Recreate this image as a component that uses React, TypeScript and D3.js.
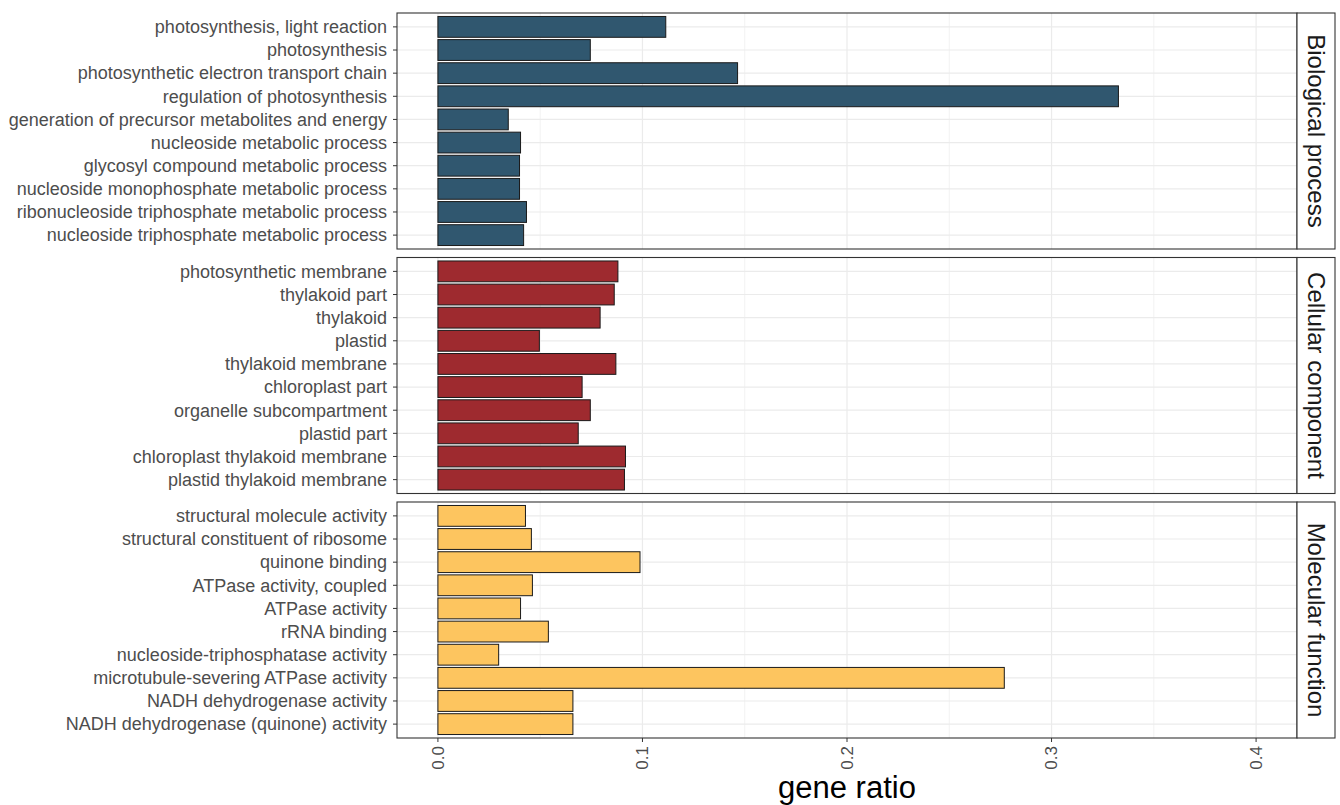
import React from 'react';
import * as d3 from 'd3';

// GO categories, top to bottom as displayed
const bpTerms = [
  'photosynthesis, light reaction',
  'photosynthesis',
  'photosynthetic electron transport chain',
  'regulation of photosynthesis',
  'generation of precursor metabolites and energy',
  'nucleoside metabolic process',
  'glycosyl compound metabolic process',
  'nucleoside monophosphate metabolic process',
  'ribonucleoside triphosphate metabolic process',
  'nucleoside triphosphate metabolic process',
];
const bpRatio = [0.1114, 0.0745, 0.1465, 0.3327, 0.0344, 0.0404, 0.0399, 0.0399, 0.0433, 0.0419];

const ccTerms = [
  'photosynthetic membrane',
  'thylakoid part',
  'thylakoid',
  'plastid',
  'thylakoid membrane',
  'chloroplast part',
  'organelle subcompartment',
  'plastid part',
  'chloroplast thylakoid membrane',
  'plastid thylakoid membrane',
];
const ccRatio = [0.088, 0.0862, 0.0793, 0.0496, 0.087, 0.0705, 0.0745, 0.0686, 0.0917, 0.0912];

const mfTerms = [
  'structural molecule activity',
  'structural constituent of ribosome',
  'quinone binding',
  'ATPase activity, coupled',
  'ATPase activity',
  'rRNA binding',
  'nucleoside-triphosphatase activity',
  'microtubule-severing ATPase activity',
  'NADH dehydrogenase activity',
  'NADH dehydrogenase (quinone) activity',
];
const mfRatio = [0.0428, 0.0457, 0.0988, 0.0462, 0.0404, 0.054, 0.0297, 0.2769, 0.066, 0.066];

const ontologies = ['Biological process', 'Cellular component', 'Molecular function'];
const ontologyColors = ['#30576F', '#9E2A2F', '#FDC55F'];
const xTicks = [0, 0.1, 0.2, 0.3, 0.4];
const xMinor = [0.05, 0.15, 0.25, 0.35];

const W = 1340;
const H = 805;
const left = 397;
const right = 1297;
const stripW = 38;
const top = 13;
const panelH = 236;
const gap = 8.5;
const font = '"Liberation Sans", Arial, sans-serif';

const App = () => {
  const panels = [
    { terms: bpTerms, values: bpRatio },
    { terms: ccTerms, values: ccRatio },
    { terms: mfTerms, values: mfRatio },
  ];

  const x = d3.scaleLinear().domain([-0.02, 0.42]).range([left, right]);
  const bottom = top + 3 * panelH + 2 * gap;

  return (
    <svg width={W} height={H} style={{ position: 'absolute', left: 0, top: 0, background: '#fff' }} fontFamily={font}>
      {panels.map((p, i) => {
        const y0 = top + i * (panelH + gap);
        const y = d3.scaleBand<string>()
          .domain(p.terms)
          .range([y0, y0 + panelH])
          .paddingInner(0.1)
          .paddingOuter(0.15);
        const mid = (t: string) => y(t)! + y.bandwidth() / 2;
        return (
          <g key={i}>
            {/* grid */}
            {xMinor.map(t => (
              <line key={'m' + t} x1={x(t)} x2={x(t)} y1={y0} y2={y0 + panelH} stroke="#F2F2F2" strokeWidth={1} />
            ))}
            {xTicks.map(t => (
              <line key={'M' + t} x1={x(t)} x2={x(t)} y1={y0} y2={y0 + panelH} stroke="#EBEBEB" strokeWidth={1.2} />
            ))}
            {p.terms.map(term => (
              <line key={'h' + term} x1={left} x2={right} y1={mid(term)} y2={mid(term)}
                stroke="#EBEBEB" strokeWidth={1.2} />
            ))}
            {/* bars */}
            {p.terms.map((term, j) => (
              <rect key={'b' + term} x={x(0)} y={y(term)!} width={x(p.values[j]) - x(0)} height={y.bandwidth()}
                fill={ontologyColors[i]} stroke="#1a1a1a" strokeWidth={1} />
            ))}
            {/* y labels + ticks */}
            {p.terms.map(term => (
              <g key={'l' + term}>
                <line x1={left - 4} x2={left} y1={mid(term)} y2={mid(term)} stroke="#333" strokeWidth={1} />
                <text x={left - 10} y={mid(term)} dy="0.35em" textAnchor="end"
                  fontSize={18} fill="#4D4D4D">{term}</text>
              </g>
            ))}
            {/* panel border */}
            <rect x={left} y={y0} width={right - left} height={panelH} fill="none" stroke="#333" strokeWidth={1.1} />
            {/* strip */}
            <rect x={right} y={y0} width={stripW} height={panelH} fill="#fff" stroke="#333" strokeWidth={1.1} />
            <text transform={`translate(${right + stripW / 2},${y0 + panelH / 2}) rotate(90)`}
              textAnchor="middle" dy="0.35em" fontSize={24} fill="#1a1a1a">{ontologies[i]}</text>
          </g>
        );
      })}
      {/* x axis */}
      {xTicks.map(t => (
        <g key={'xt' + t}>
          <line x1={x(t)} x2={x(t)} y1={bottom} y2={bottom + 4} stroke="#333" strokeWidth={1} />
          <text transform={`translate(${x(t)},${bottom + 8}) rotate(-90)`} textAnchor="end" dy="0.35em"
            fontSize={17} fill="#4D4D4D">{d3.format('.1f')(t)}</text>
        </g>
      ))}
      <text x={(left + right) / 2} y={798} textAnchor="middle" fontSize={31} fill="#000">gene ratio</text>
    </svg>
  );
};

export default App;
